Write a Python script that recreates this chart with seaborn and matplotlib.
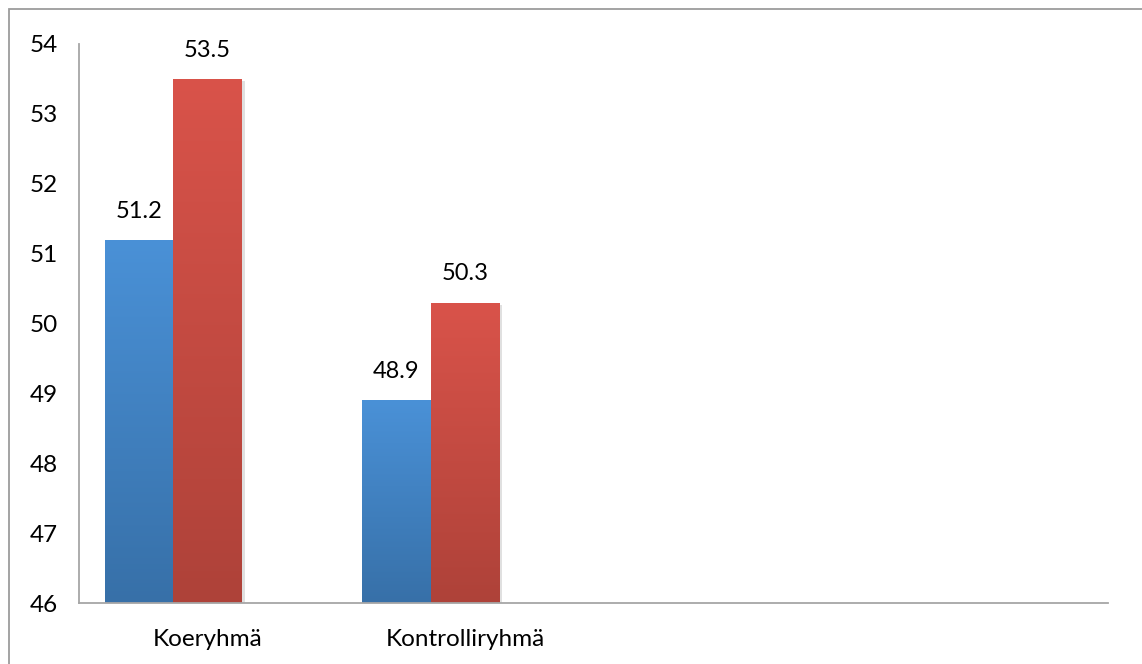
import numpy as np
import pandas as pd
import matplotlib
matplotlib.use("Agg")
import matplotlib.pyplot as plt
import matplotlib.patheffects as pe
from matplotlib.colors import LinearSegmentedColormap
from matplotlib.patches import Rectangle
import seaborn as sns

# Data: four category slots (two unused), three series (third empty)
groups = ["Koeryhmä", "Kontrolliryhmä", "", " "]
series = ["Sarja 1", "Sarja 2", "Sarja 3"]
used_groups = ["Koeryhmä", "Kontrolliryhmä"]
values_s1 = [51.2, 48.9]
values_s2 = [53.5, 50.3]
y_ticks = [46, 47, 48, 49, 50, 51, 52, 53, 54]

df = pd.DataFrame({
    "ryhmä": used_groups * 2,
    "sarja": [series[0]] * len(used_groups) + [series[1]] * len(used_groups),
    "arvo": values_s1 + values_s2,
})

sns.set_theme(style="white")
plt.rcParams["font.family"] = ["Lato", "DejaVu Sans"]

W, H = 1142, 664
fig = plt.figure(figsize=(W / 100, H / 100), dpi=100)
ax = fig.add_axes([79 / W, 1 - 603 / H, (1108 - 79) / W, (603 - 44) / H])

top_cols = ["#4a91d7", "#d9534a", "#9bbb59"]
bot_cols = ["#3770a8", "#ae4239"]

sns.barplot(data=df, x="ryhmä", y="arvo", hue="sarja", order=groups,
            hue_order=series, palette=top_cols, width=0.8, gap=0,
            legend=False, ax=ax, saturation=1, edgecolor="none")

ax.set_ylim(46, 54)
ax.set_xlim(-0.5, 3.5)
ax.set_yticks(y_ticks)
ax.set_yticklabels([str(t) for t in y_ticks])
ax.set_xticks(range(len(groups)))
ax.set_xticklabels(groups)
ax.set_xlabel("")
ax.set_ylabel("")

# vertical gradient fill and soft shadow on each bar
containers = [c for c in ax.containers if len(c) > 0]
for i, container in enumerate(containers):
    cmap = LinearSegmentedColormap.from_list(f"g{i}", [bot_cols[i], top_cols[i]])
    grad = np.linspace(0, 1, 256).reshape(-1, 1)
    for bar in container:
        bar.set_path_effects([pe.SimplePatchShadow(offset=(2, -1.5), alpha=0.18,
                                                   shadow_rgbFace="#555555"),
                              pe.Normal()])
        x0, y0 = bar.get_x(), 46
        x1, y1 = x0 + bar.get_width(), bar.get_height()
        im = ax.imshow(grad, cmap=cmap, origin="lower", aspect="auto",
                       extent=[x0, x1, y0, y1], zorder=bar.get_zorder() + 0.1)
        im.set_clip_path(bar)
    ax.bar_label(container, labels=[f"{v:.1f}" for v in container.datavalues],
                 padding=13, fontsize=17, color="#000000")

ax.set_xlim(-0.5, 3.5)
ax.set_ylim(46, 54)

for side in ["top", "right"]:
    ax.spines[side].set_visible(False)
for side in ["left", "bottom"]:
    ax.spines[side].set_color("#a6a6a6")
    ax.spines[side].set_linewidth(1.3)

ax.tick_params(axis="y", length=0, pad=15, labelsize=17.5, labelcolor="#000000")
ax.tick_params(axis="x", length=0, pad=19, labelsize=17.5, labelcolor="#000000")
ax.grid(False)

# outer chart border
fig.patches.append(Rectangle((9 / W, -0.1), 1.2, 1.1 - 9 / H,
                             transform=fig.transFigure, fill=False,
                             edgecolor="#9c9c9c", linewidth=1.3))

fig.savefig("out.png", dpi=100)
